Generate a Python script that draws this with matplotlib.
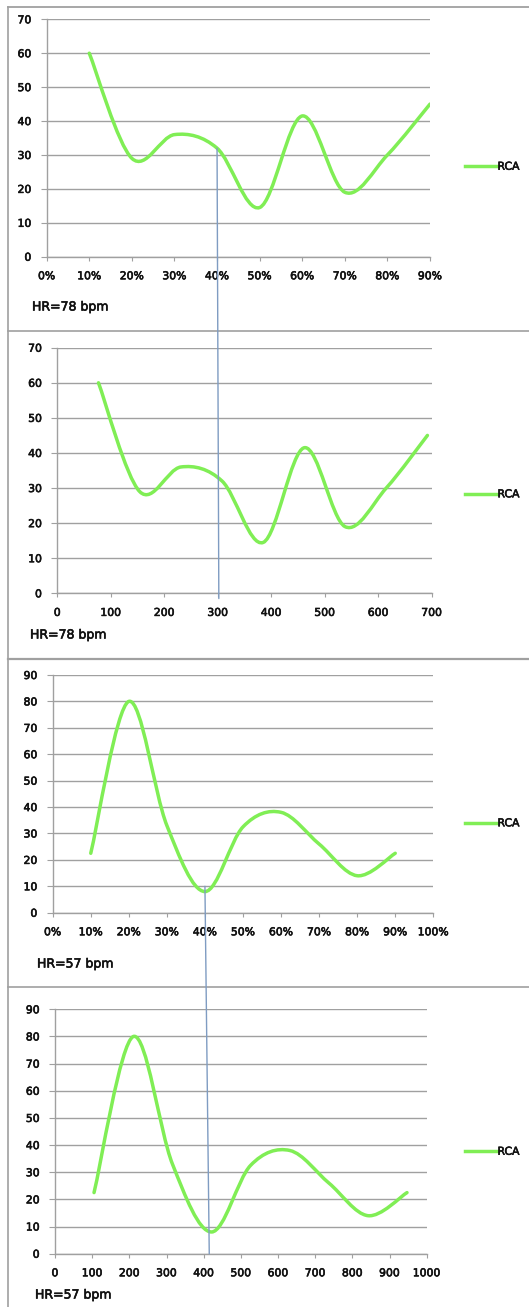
import matplotlib
matplotlib.use("Agg")
import matplotlib.pyplot as plt
from matplotlib.path import Path
from matplotlib.patches import PathPatch, ConnectionPatch
from matplotlib.lines import Line2D
import matplotlib.patheffects as pe
import numpy as np

# ---------------- data ----------------
phase_pct = [0.1, 0.2, 0.3, 0.4, 0.5, 0.6, 0.7, 0.8, 0.9]
ms_hr78 = [77, 154, 231, 308, 385, 462, 538, 615, 692]
ms_hr57 = [105, 211, 316, 421, 526, 632, 737, 842, 947]
rca_hr78 = [60, 29, 36, 32, 14.5, 41.5, 19, 30, 45]
rca_hr57 = [22.5, 80, 33, 8, 32.5, 38, 26, 14, 22.5]
series_name = "RCA"
hr_labels = ["HR=78 bpm", "HR=78 bpm", "HR=57 bpm", "HR=57 bpm"]

W, H = 529, 1307
fig = plt.figure(figsize=(W / 100, H / 100), dpi=100)
fig.patch.set_facecolor("white")

GREEN = "#80EE55"
GRID = "#A0A0A0"
TXT = "#111111"
FONT = "DejaVu Sans"
BOLDISH = [pe.withStroke(linewidth=0.45, foreground=TXT)]
TICKSIZE = 7.8


def px_axes(left, right, top, bottom):
    return fig.add_axes([left / W, 1 - bottom / H, (right - left) / W, (bottom - top) / H])


def smooth_path(xs, ys):
    pts = np.column_stack([xs, ys]).astype(float)
    n = len(pts)
    verts = [pts[0]]
    codes = [Path.MOVETO]
    for i in range(n - 1):
        p0 = pts[i - 1] if i > 0 else pts[i]
        p1 = pts[i]
        p2 = pts[i + 1]
        p3 = pts[i + 2] if i + 2 < n else pts[i + 1]
        c1 = p1 + (p2 - p0) / 6.0
        c2 = p2 - (p3 - p1) / 6.0
        verts += [c1, c2, p2]
        codes += [Path.CURVE4] * 3
    return Path(verts, codes)


def style_axes(ax, xlim, xticks, xlabels, ylim, yticks):
    ax.set_xlim(*xlim)
    ax.set_ylim(*ylim)
    ax.set_xticks(xticks)
    ax.set_xticklabels(xlabels)
    ax.set_yticks(yticks)
    ax.set_yticklabels([str(v) for v in yticks])
    for s in ["top", "right"]:
        ax.spines[s].set_visible(False)
    for s in ["left", "bottom"]:
        ax.spines[s].set_color(GRID)
        ax.spines[s].set_linewidth(1.0)
    ax.grid(axis="y", color=GRID, linewidth=1.0)
    ax.set_axisbelow(True)
    ax.tick_params(axis="x", direction="out", length=3, width=0.8, color=GRID,
                   pad=7.5, labelsize=TICKSIZE, labelcolor=TXT)
    ax.tick_params(axis="y", direction="out", length=4, width=0.8, color=GRID,
                   pad=7, labelsize=TICKSIZE, labelcolor=TXT)
    for lab in ax.get_xticklabels() + ax.get_yticklabels():
        lab.set_fontfamily(FONT)
        lab.set_path_effects(BOLDISH)
    ax.patch.set_alpha(0)


def add_curve(ax, xs, ys):
    patch = PathPatch(smooth_path(xs, ys), facecolor="none", edgecolor=GREEN,
                      linewidth=2.5, capstyle="round", joinstyle="round", zorder=3)
    ax.add_patch(patch)


def add_legend(ax, ycenter):
    h = Line2D([], [], color=GREEN, linewidth=2.5)
    leg = ax.legend([h], [series_name], loc="center left",
                    bbox_to_anchor=(465 / W, 1 - ycenter / H),
                    bbox_transform=fig.transFigure, frameon=False,
                    handlelength=3.0, handletextpad=0.0, borderpad=0,
                    borderaxespad=0, prop={"family": FONT, "size": TICKSIZE})
    for t in leg.get_texts():
        t.set_color(TXT)
        t.set_path_effects(BOLDISH)


pct_ticks1 = [i / 10 for i in range(10)]
pct_ticks3 = [i / 10 for i in range(11)]

# Panel 1
ax1 = px_axes(46.7, 430, 19.3, 256.7)
style_axes(ax1, (0, 0.9), pct_ticks1, [f"{int(round(t*100))}%" for t in pct_ticks1],
           (0, 70), list(range(0, 71, 10)))
add_curve(ax1, phase_pct, rca_hr78)
add_legend(ax1, 166.7)

# Panel 2
ax2 = px_axes(57.3, 431.7, 347.7, 593.3)
style_axes(ax2, (0, 700), list(range(0, 701, 100)), [str(v) for v in range(0, 701, 100)],
           (0, 70), list(range(0, 71, 10)))
add_curve(ax2, ms_hr78, rca_hr78)
add_legend(ax2, 494.3)

# Panel 3
ax3 = px_axes(52.7, 433.3, 675, 912.7)
style_axes(ax3, (0, 1.0), pct_ticks3, [f"{int(round(t*100))}%" for t in pct_ticks3],
           (0, 90), list(range(0, 91, 10)))
add_curve(ax3, phase_pct, rca_hr57)
add_legend(ax3, 823.3)

# Panel 4
ax4 = px_axes(55, 426.7, 1009.3, 1253.7)
style_axes(ax4, (0, 1000), list(range(0, 1001, 100)), [str(v) for v in range(0, 1001, 100)],
           (0, 90), list(range(0, 91, 10)))
add_curve(ax4, ms_hr57, rca_hr57)
add_legend(ax4, 1151.7)

# HR labels
for (x, y), lab in zip([(32, 307), (30, 635), (37, 964), (35, 1295)], hr_labels):
    fig.text(x / W, 1 - y / H, lab, ha="left", va="center", fontsize=9,
             family=FONT, color=TXT, path_effects=BOLDISH)

# panel frames
frame_col = "#A0A0A0"
for y, lw in [(7, 1.3), (331, 1.2), (659, 1.6), (987, 1.2)]:
    fig.add_artist(Line2D([8 / W, 1], [1 - y / H, 1 - y / H], transform=fig.transFigure,
                          color=frame_col, linewidth=lw))
fig.add_artist(Line2D([8 / W, 8 / W], [1 - 7 / H, 0], transform=fig.transFigure,
                      color=frame_col, linewidth=1.2))

# connecting vertical lines
VCOL = "#7F9CC2"
con1 = ConnectionPatch(xyA=(0.4, 32), coordsA=ax1.transData,
                       xyB=(302, -1.5), coordsB=ax2.transData,
                       color=VCOL, linewidth=1.0, zorder=10)
fig.add_artist(con1)
con2 = ConnectionPatch(xyA=(0.4, 10), coordsA=ax3.transData,
                       xyB=(415, 0), coordsB=ax4.transData,
                       color=VCOL, linewidth=1.0, zorder=10)
fig.add_artist(con2)

fig.savefig("out.png", dpi=100, facecolor="white")
